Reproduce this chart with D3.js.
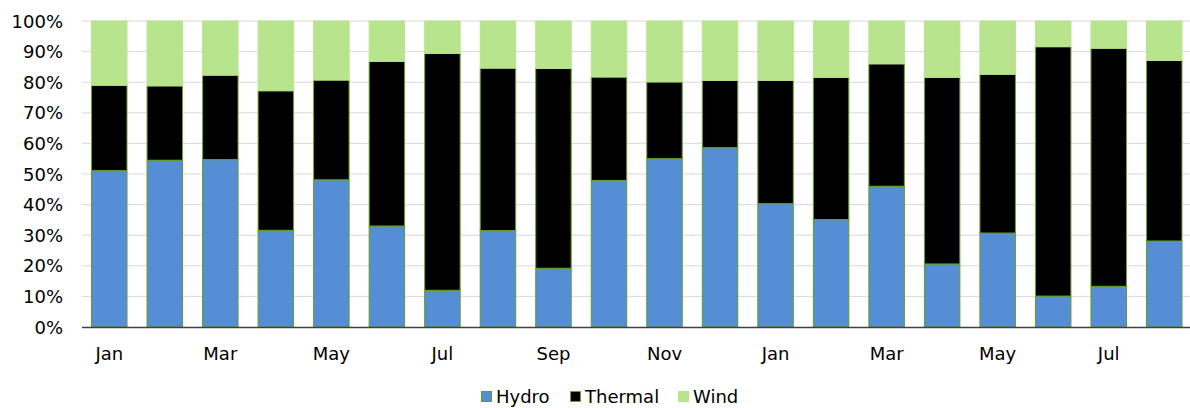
<!DOCTYPE html>
<html><head><meta charset="utf-8">
<script src="https://cdn.jsdelivr.net/npm/d3@7"></script>
<style>body{margin:0;background:#fff}svg{display:block}</style>
</head><body>
<svg id="c" width="1190" height="408"></svg>
<script>
const categories = ["Jan","Feb","Mar","Apr","May","Jun","Jul","Aug","Sep","Oct","Nov","Dec","Jan","Feb","Mar","Apr","May","Jun","Jul","Aug"];
const hydro   = [51.1,54.5,54.7,31.6,48.1,33.0,12.0,31.5,19.2,47.9,55.0,58.6,40.3,35.1,46.0,20.6,30.7,10.1,13.3,28.1];
const thermal = [27.9,24.3,27.6,45.6,32.6,53.8,77.4,53.1,65.3,33.8,25.1,22.0,40.3,46.5,40.0,61.0,51.9,81.5,77.8,59.0];
const wind    = [21.0,21.2,17.7,22.8,19.3,13.2,10.6,15.4,15.5,18.3,19.9,19.4,19.4,18.4,14.0,18.4,17.4,8.4,8.9,12.9];
const seriesNames = ["Hydro","Thermal","Wind"];
const yTicks = [0,10,20,30,40,50,60,70,80,90,100];
const tickLabelIdx = [0,2,4,6,8,10,12,14,16,18];

const colors = {Hydro:"#558ed5",Thermal:"#000000",Wind:"#b9e48e"};
const strokes = {Hydro:"#5f9e22",Thermal:"#6aa528",Wind:"#b9e48e"};
const font = "Verdana, 'DejaVu Sans', sans-serif";
const fs = 18;

const svg = d3.select("#c");
const x = d3.scaleBand().domain(d3.range(categories.length)).range([81.5,1192]).paddingInner(0.343).paddingOuter(0.1715);
const y = d3.scaleLinear().domain([0,100]).range([327,21]);

svg.append("g").selectAll("line").data(yTicks.slice(1)).join("line")
  .attr("x1",82).attr("x2",1190).attr("y1",d=>y(d)).attr("y2",d=>y(d))
  .attr("stroke","#d9d9d9").attr("stroke-width",1);

svg.append("g").selectAll("text").data(yTicks).join("text")
  .attr("x",63).attr("y",d=>y(d)+6.5).attr("text-anchor","end")
  .attr("font-family",font).attr("font-size",fs).attr("fill","#000")
  .text(d=>d+"%");

const data = categories.map((c,i)=>({i,Hydro:hydro[i],Thermal:thermal[i],Wind:wind[i]}));
const stack = d3.stack().keys(seriesNames)(data);

svg.append("g").selectAll("g").data(stack).join("g")
  .attr("fill",d=>colors[d.key]).attr("stroke",d=>strokes[d.key]).attr("stroke-width",1)
  .selectAll("rect").data(d=>d).join("rect")
  .attr("x",d=>x(d.data.i)+0.5).attr("width",x.bandwidth()-1)
  .attr("y",d=>y(d[1])).attr("height",d=>y(d[0])-y(d[1]));

svg.append("line").attr("x1",82).attr("x2",1190).attr("y1",327.5).attr("y2",327.5)
  .attr("stroke","#404040").attr("stroke-width",1.3);

svg.append("g").selectAll("text").data(tickLabelIdx).join("text")
  .attr("x",i=>x(i)+x.bandwidth()/2).attr("y",360).attr("text-anchor","middle")
  .attr("font-family",font).attr("font-size",fs).attr("fill","#000")
  .text(i=>categories[i]);

const legendX = [481,570,678];
const lg = svg.append("g").selectAll("g").data(seriesNames).join("g")
  .attr("transform",(d,i)=>`translate(${legendX[i]},0)`);
lg.append("rect").attr("x",0.5).attr("y",391.5).attr("width",10).attr("height",10)
  .attr("fill",d=>colors[d]).attr("stroke",d=>d==="Wind"?colors[d]:strokes[d]);
lg.append("text").attr("x",15).attr("y",403)
  .attr("font-family",font).attr("font-size",fs).attr("fill","#000").text(d=>d);
</script>
</body></html>
